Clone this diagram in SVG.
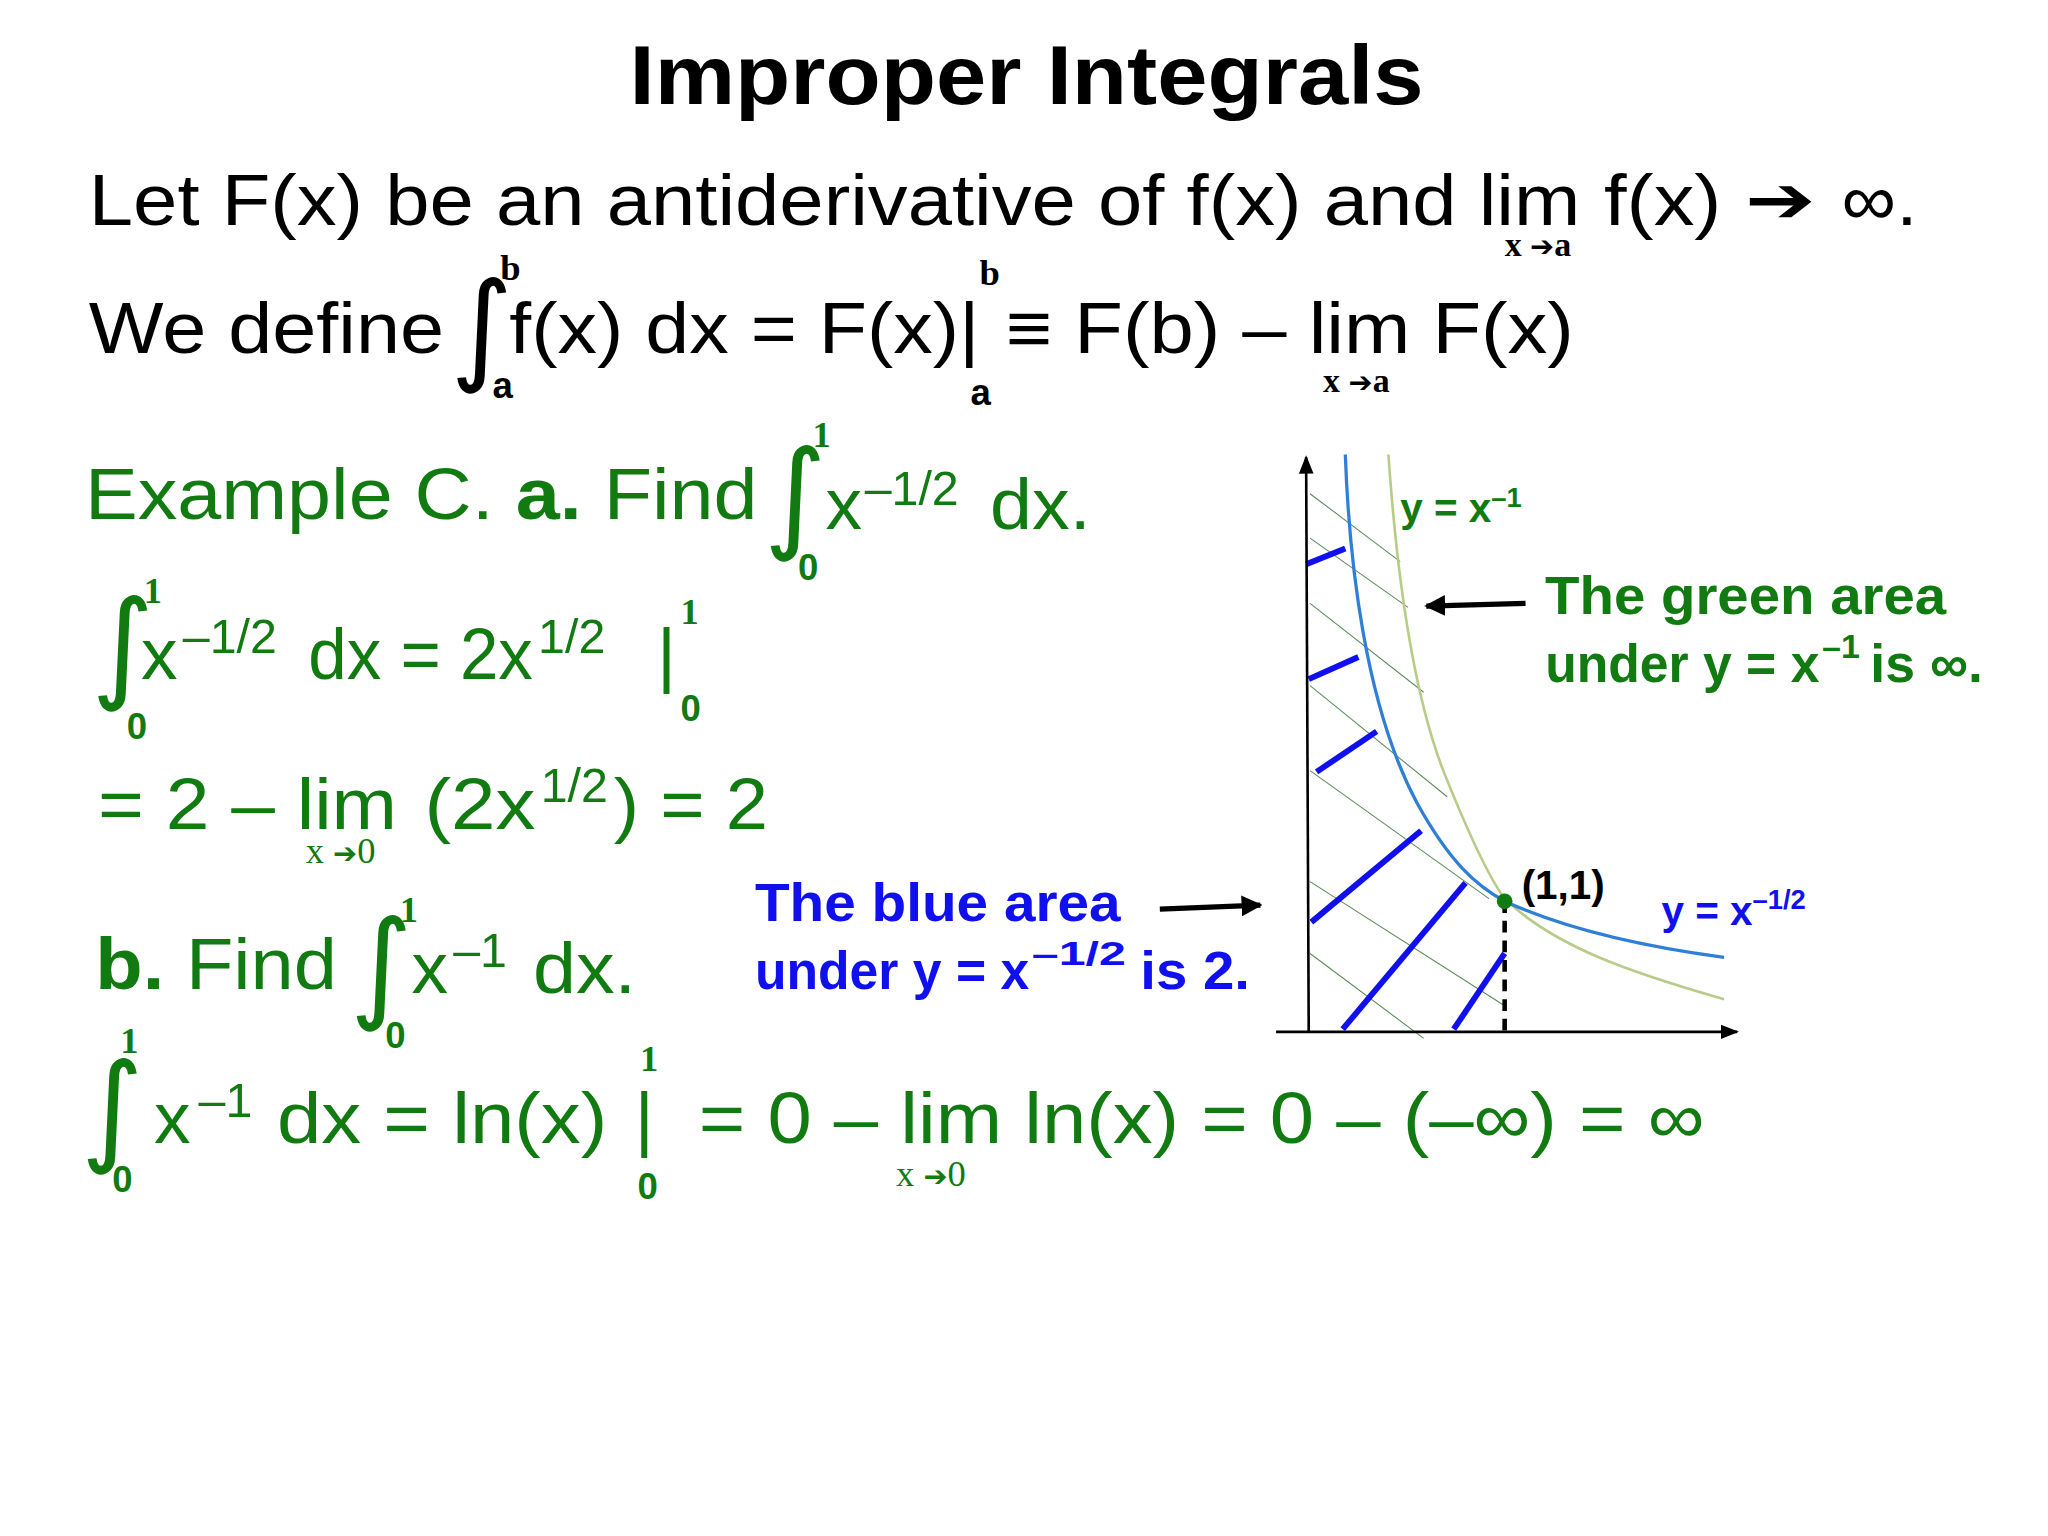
<svg xmlns="http://www.w3.org/2000/svg" width="2048" height="1536" viewBox="0 0 2048 1536">
<defs>
<style>
.s{font-family:"Liberation Sans",Arial,sans-serif}
.k{fill:#000}
.g{fill:#117a11}
.b{fill:#1010ee}
.bd{font-weight:bold}
.sr{font-family:"Liberation Serif","Times New Roman",serif}
.int{font-family:"DejaVu Sans",sans-serif;font-size:92px}
.hatch{stroke:#5a8a5a;stroke-width:0.8}
.bh{stroke:#1010ee;stroke-width:4.5}
</style>
<marker id="ah" viewBox="0 0 10 10" refX="9" refY="5" markerWidth="4" markerHeight="4" orient="auto"><path d="M0,0L10,5L0,10z" fill="#000"/></marker>
<marker id="ah2" viewBox="0 0 10 10" refX="9" refY="5" markerWidth="7" markerHeight="7" orient="auto"><path d="M0,1L10,5L0,9z" fill="#000"/></marker>
</defs>
<rect width="2048" height="1536" fill="#fff"/>
<g transform="scale(1.30612)">
<g id="title"><text x="482" y="80" textLength="608" lengthAdjust="spacingAndGlyphs" class="s bd k" font-size="64">Improper Integrals</text></g>
<g id="line1" class="s k" font-size="56">
<text x="68" y="172" textLength="1142" lengthAdjust="spacingAndGlyphs">Let F(x) be an antiderivative of f(x) and lim</text>
<text x="1228" y="172" textLength="90" lengthAdjust="spacingAndGlyphs">f(x)</text>
<text x="1336" y="170" class="bd" font-family="DejaVu Sans" font-size="50" textLength="54" lengthAdjust="spacingAndGlyphs">➔</text>
<text x="1410" y="172" textLength="58" lengthAdjust="spacingAndGlyphs">∞.</text>
<text x="1152" y="196" class="sr bd" font-size="26">x <tspan font-family="DejaVu Sans" font-size="22">➔</tspan>a</text>
</g>
<g id="line2" class="s k" font-size="56">
<text x="68" y="270" textLength="272" lengthAdjust="spacingAndGlyphs">We define</text>
<text x="345" y="282" class="int">∫</text>
<text x="383" y="214" class="sr bd" font-size="28">b</text>
<text x="377" y="305" class="bd" font-size="28">a</text>
<text x="390" y="270" textLength="360" lengthAdjust="spacingAndGlyphs">f(x) dx = F(x)|</text>
<text x="770" y="270" textLength="435" lengthAdjust="spacingAndGlyphs">≡ F(b) – lim F(x)</text>
<text x="750" y="218" class="sr bd" font-size="28">b</text>
<text x="743" y="310" class="bd" font-size="28">a</text>
<text x="1013" y="300" class="sr bd" font-size="26">x <tspan font-family="DejaVu Sans" font-size="22">➔</tspan>a</text>
</g>
<g id="exampleA" class="s g" font-size="56">
<text x="65" y="397" textLength="515" lengthAdjust="spacingAndGlyphs">Example C. <tspan class="bd">a.</tspan> Find</text>
<text x="585" y="410" class="int">∫</text>
<text x="622" y="342" class="sr bd" font-size="28">1</text>
<text x="611" y="444" class="bd" font-size="28">0</text>
<text x="632" y="405">x</text>
<text x="662" y="387" font-size="37">–1/2</text>
<text x="758" y="405" textLength="77" lengthAdjust="spacingAndGlyphs">dx.</text>
</g>
<g id="stepA1" class="s g" font-size="56">
<text x="70" y="525" class="int">∫</text>
<text x="110" y="462" class="sr bd" font-size="28">1</text>
<text x="97" y="566" class="bd" font-size="28">0</text>
<text x="108" y="520">x</text>
<text x="140" y="500" font-size="37">–1/2</text>
<text x="236" y="520" textLength="172" lengthAdjust="spacingAndGlyphs">dx = 2x</text>
<text x="412" y="500" font-size="37">1/2</text>
<text x="503" y="520">|</text>
<text x="521" y="478" class="sr bd" font-size="28">1</text>
<text x="521" y="552" class="bd" font-size="28">0</text>
</g>
<g id="stepA2" class="s g" font-size="56">
<text x="75" y="635" textLength="229" lengthAdjust="spacingAndGlyphs">= 2 – lim</text>
<text x="325" y="635" textLength="85" lengthAdjust="spacingAndGlyphs">(2x</text>
<text x="414" y="614" font-size="37">1/2</text>
<text x="470" y="635" textLength="118" lengthAdjust="spacingAndGlyphs">) = 2</text>
<text x="234" y="661" class="sr" font-size="28">x <tspan font-family="DejaVu Sans" font-size="22">➔</tspan>0</text>
</g>
<g id="exampleB" class="s g" font-size="56">
<text x="73" y="757" textLength="185" lengthAdjust="spacingAndGlyphs"><tspan class="bd">b.</tspan> Find</text>
<text x="268" y="770" class="int">∫</text>
<text x="306" y="706" class="sr bd" font-size="28">1</text>
<text x="295" y="802" class="bd" font-size="28">0</text>
<text x="315" y="760">x</text>
<text x="347" y="740" font-size="37">–1</text>
<text x="408" y="760" textLength="79" lengthAdjust="spacingAndGlyphs">dx.</text>
</g>
<g id="stepB" class="s g" font-size="56">
<text x="62" y="880" class="int">∫</text>
<text x="92" y="806" class="sr bd" font-size="28">1</text>
<text x="86" y="913" class="bd" font-size="28">0</text>
<text x="118" y="875">x</text>
<text x="152" y="855" font-size="37">–1</text>
<text x="212" y="875" textLength="253" lengthAdjust="spacingAndGlyphs">dx = ln(x)</text>
<text x="486" y="875">|</text>
<text x="490" y="820" class="sr bd" font-size="28">1</text>
<text x="488" y="918" class="bd" font-size="28">0</text>
<text x="535" y="875" textLength="770" lengthAdjust="spacingAndGlyphs">= 0 – lim ln(x) = 0 – (–∞) = ∞</text>
<text x="686" y="908" class="sr" font-size="28">x <tspan font-family="DejaVu Sans" font-size="22">➔</tspan>0</text>
</g>
<g id="graph">
<g class="hatch">
<line x1="1003" y1="378" x2="1072" y2="430"/>
<line x1="1003" y1="412" x2="1078" y2="465"/>
<line x1="1003" y1="462" x2="1090" y2="530"/>
<line x1="1003" y1="525" x2="1108" y2="610"/>
<line x1="1003" y1="590" x2="1140" y2="688"/>
<line x1="1003" y1="675" x2="1152" y2="770"/>
<line x1="1003" y1="730" x2="1090" y2="795"/>
</g>
<g class="bh">
<line x1="1000" y1="432" x2="1030" y2="420"/>
<line x1="1002" y1="520" x2="1040" y2="503"/>
<line x1="1008" y1="591" x2="1054" y2="560"/>
<line x1="1004" y1="706" x2="1088" y2="636"/>
<line x1="1028" y1="788" x2="1122" y2="676"/>
<line x1="1113" y1="788" x2="1152" y2="730"/>
</g>
<path d="M1063,348 C1068,420 1078,520 1105,590 C1125,640 1140,672 1152,688 C1190,725 1250,745 1320,765" fill="none" stroke="#b8cc88" stroke-width="2"/>
<path d="M1030,348 C1033,430 1045,540 1085,615 C1110,660 1130,678 1152,690 C1200,712 1260,725 1320,733" fill="none" stroke="#2f7fd6" stroke-width="2.5"/>
<line x1="1002" y1="790" x2="1000" y2="350" stroke="#000" stroke-width="2" marker-end="url(#ah2)"/>
<line x1="977" y1="790" x2="1330" y2="790" stroke="#000" stroke-width="2" marker-end="url(#ah2)"/>
<line x1="1152" y1="690" x2="1152" y2="790" stroke="#000" stroke-width="3.5" stroke-dasharray="9,6"/>
<circle cx="1152" cy="690" r="6" fill="#117a11"/>
<text x="1072" y="400" class="s bd g" font-size="31">y = x<tspan dy="-12" font-size="21">–1</tspan></text>
<text x="1165" y="688" class="s bd k" font-size="31">(1,1)</text>
<text x="1272" y="708" class="s bd b" font-size="31">y = x<tspan dy="-12" font-size="21">–1/2</tspan></text>
</g>
<g id="greenLabel" class="s bd g" font-size="41">
<text x="1183" y="470" textLength="307" lengthAdjust="spacingAndGlyphs">The green area</text>
<text x="1183" y="522" textLength="210" lengthAdjust="spacingAndGlyphs">under y = x</text>
<text x="1395" y="504" font-size="26">–1</text>
<text x="1432" y="522">is ∞.</text>
</g>
<g id="blueLabel" class="s bd b" font-size="41">
<text x="578" y="757" textLength="210" lengthAdjust="spacingAndGlyphs">under y = x</text>
<text x="578" y="705" textLength="280" lengthAdjust="spacingAndGlyphs">The blue area</text>
<text x="790" y="739" font-size="26" textLength="72" lengthAdjust="spacingAndGlyphs">–1/2</text>
<text x="873" y="757" textLength="84" lengthAdjust="spacingAndGlyphs">is 2.</text>
</g>
<g id="connectors" stroke="#000" stroke-width="4" fill="none">
<line x1="1168" y1="462" x2="1092" y2="464" marker-end="url(#ah)"/>
<line x1="888" y1="696" x2="965" y2="693" marker-end="url(#ah)"/>
</g>
</g>
</svg>
